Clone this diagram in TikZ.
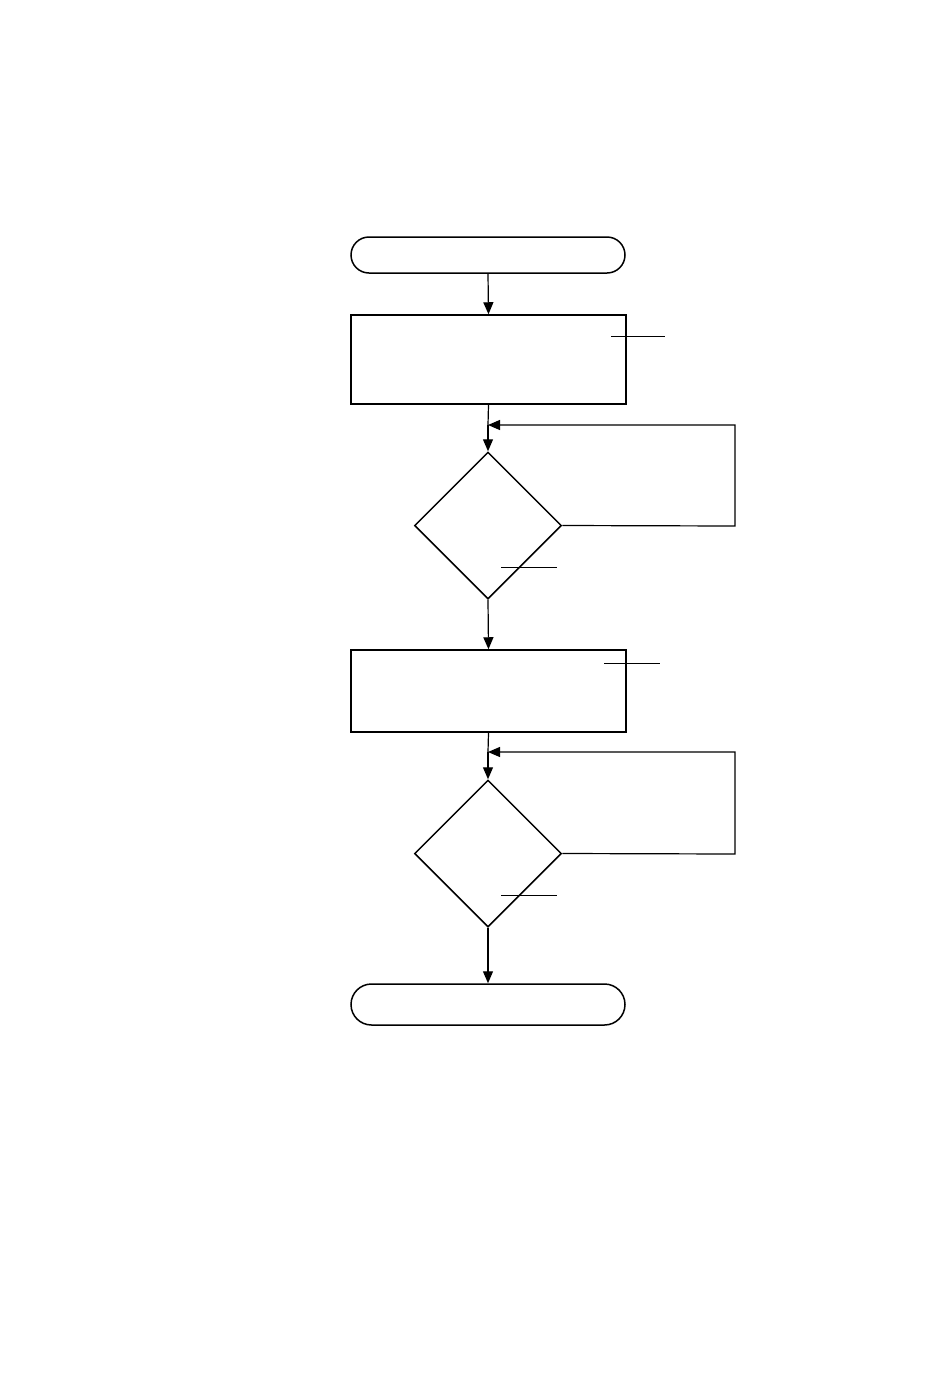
\documentclass[tikz,border=0pt]{standalone}
\usetikzlibrary{arrows.meta,shapes.geometric,shapes.misc}
\tikzset{
  termbox/.style={draw, line width=1.5pt, rounded rectangle, inner sep=0pt, minimum width=274pt},
  procbox/.style={draw, line width=1.5pt, rectangle, inner sep=0pt, minimum width=275pt},
  decbox/.style={draw, line width=1.5pt, diamond, inner sep=0pt, minimum width=147pt, minimum height=147pt},
  flow/.style={line width=1.2pt, -{Triangle[length=12pt,width=10pt]}},
  lead/.style={line width=0.9pt}
}
\begin{document}
\begin{tikzpicture}[x=1pt, y=-1pt]
    \useasboundingbox (0,0) rectangle (950,1374);

    % Blöcke
    \node[termbox, minimum height=36pt] (start) at (488,255) {};
    \node[procbox, minimum height=89pt] (box1) at (488.5,359.5) {};
    \node[decbox] (dec1) at (488,525.5) {};
    \node[procbox, minimum height=82pt] (box2) at (488.5,691) {};
    \node[decbox] (dec2) at (488,853.5) {};
    \node[termbox, minimum height=41pt] (stop) at (488,1004.5) {};

    \coordinate (j1) at (488,425);
    \coordinate (j2) at (488,752);

    % Verbindungen
    \draw[flow] (start.south) -- (box1.north);
    \draw[line width=1.2pt] (box1.south) -- (j1);
    \draw[flow] (j1) -- (dec1.north);
    \draw[flow] (dec1.east) -- (735,526) |- (j1);
    \draw[flow] (dec1.south) -- (box2.north);
    \draw[line width=1.2pt] (box2.south) -- (j2);
    \draw[flow] (j2) -- (dec2.north);
    \draw[flow] (dec2.east) -- (735,854) |- (j2);
    \draw[flow] (dec2.south) -- (stop.north);

    % Bezugslinien
    \draw[lead] (611,336) -- (665,336);
    \draw[lead] (501,567) -- (557,567);
    \draw[lead] (604,663) -- (660,663);
    \draw[lead] (501,895) -- (557,895);
\end{tikzpicture}
\end{document}
